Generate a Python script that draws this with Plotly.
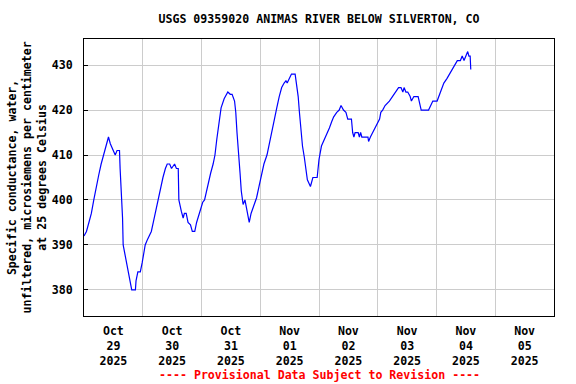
import plotly.graph_objects as go

# ---- data ----
times = [
    # Oct 29
    "2025-10-29 00:00", "2025-10-29 01:00", "2025-10-29 02:00", "2025-10-29 03:00", "2025-10-29 04:00",
    "2025-10-29 05:00", "2025-10-29 06:00", "2025-10-29 07:00", "2025-10-29 08:00", "2025-10-29 09:00",
    "2025-10-29 10:00", "2025-10-29 10:45", "2025-10-29 12:00", "2025-10-29 12:45", "2025-10-29 13:30",
    "2025-10-29 14:30", "2025-10-29 14:45", "2025-10-29 15:30", "2025-10-29 15:45", "2025-10-29 16:00",
    "2025-10-29 16:45", "2025-10-29 17:30", "2025-10-29 18:15", "2025-10-29 19:00", "2025-10-29 19:30",
    "2025-10-29 21:00", "2025-10-29 21:15", "2025-10-29 22:00", "2025-10-29 23:00", "2025-10-29 23:45",
    # Oct 30
    "2025-10-30 00:30", "2025-10-30 01:00", "2025-10-30 01:45", "2025-10-30 02:30", "2025-10-30 03:30",
    "2025-10-30 04:30", "2025-10-30 05:30", "2025-10-30 06:30", "2025-10-30 07:15", "2025-10-30 08:15",
    "2025-10-30 09:15", "2025-10-30 10:00", "2025-10-30 11:00", "2025-10-30 11:45", "2025-10-30 13:00",
    "2025-10-30 13:45", "2025-10-30 14:30", "2025-10-30 14:45", "2025-10-30 15:45", "2025-10-30 16:30",
    "2025-10-30 17:00", "2025-10-30 17:45", "2025-10-30 18:30", "2025-10-30 19:30", "2025-10-30 20:15",
    "2025-10-30 21:15", "2025-10-30 22:00", "2025-10-30 22:30", "2025-10-30 23:45",
    # Oct 31
    "2025-10-31 00:30", "2025-10-31 01:15", "2025-10-31 02:00", "2025-10-31 03:00", "2025-10-31 03:45",
    "2025-10-31 04:45", "2025-10-31 05:30", "2025-10-31 06:15", "2025-10-31 07:15", "2025-10-31 08:00",
    "2025-10-31 09:15", "2025-10-31 10:15", "2025-10-31 10:45", "2025-10-31 11:45", "2025-10-31 12:30",
    "2025-10-31 13:30", "2025-10-31 14:00", "2025-10-31 14:30", "2025-10-31 15:15", "2025-10-31 15:45",
    "2025-10-31 16:15", "2025-10-31 17:00", "2025-10-31 17:45", "2025-10-31 18:15", "2025-10-31 19:00",
    "2025-10-31 19:30", "2025-10-31 20:15", "2025-10-31 21:30", "2025-10-31 22:30", "2025-10-31 23:30",
    # Nov 01
    "2025-11-01 00:30", "2025-11-01 01:30", "2025-11-01 02:45", "2025-11-01 03:30", "2025-11-01 04:30",
    "2025-11-01 05:30", "2025-11-01 06:45", "2025-11-01 07:45", "2025-11-01 08:45", "2025-11-01 09:45",
    "2025-11-01 10:30", "2025-11-01 11:00", "2025-11-01 12:00", "2025-11-01 12:45", "2025-11-01 14:15",
    "2025-11-01 15:00", "2025-11-01 15:30", "2025-11-01 16:00", "2025-11-01 16:45", "2025-11-01 17:15",
    "2025-11-01 18:00", "2025-11-01 18:30", "2025-11-01 19:15", "2025-11-01 20:30", "2025-11-01 21:30",
    "2025-11-01 23:15",
    # Nov 02
    "2025-11-02 00:00", "2025-11-02 01:00", "2025-11-02 02:15", "2025-11-02 03:15", "2025-11-02 04:15",
    "2025-11-02 05:15", "2025-11-02 06:00", "2025-11-02 07:15", "2025-11-02 08:15", "2025-11-02 09:00",
    "2025-11-02 10:00", "2025-11-02 11:00", "2025-11-02 11:45", "2025-11-02 13:15", "2025-11-02 13:45",
    "2025-11-02 14:15", "2025-11-02 14:45", "2025-11-02 16:00", "2025-11-02 16:30", "2025-11-02 17:00",
    "2025-11-02 17:30", "2025-11-02 20:00", "2025-11-02 20:15", "2025-11-02 21:00", "2025-11-02 22:00",
    "2025-11-02 23:00", "2025-11-02 23:45",
    # Nov 03
    "2025-11-03 00:45", "2025-11-03 01:15", "2025-11-03 02:00", "2025-11-03 03:00", "2025-11-03 04:45",
    "2025-11-03 06:00", "2025-11-03 07:15", "2025-11-03 08:30", "2025-11-03 09:30", "2025-11-03 10:15",
    "2025-11-03 10:45", "2025-11-03 11:30", "2025-11-03 12:15", "2025-11-03 13:15", "2025-11-03 13:45",
    "2025-11-03 14:45", "2025-11-03 16:30", "2025-11-03 17:00", "2025-11-03 17:45", "2025-11-03 20:45",
    "2025-11-03 21:30", "2025-11-03 22:30",
    # Nov 04
    "2025-11-04 00:15", "2025-11-04 01:00", "2025-11-04 02:00", "2025-11-04 03:00", "2025-11-04 04:15",
    "2025-11-04 05:15", "2025-11-04 06:15", "2025-11-04 07:30", "2025-11-04 08:30", "2025-11-04 09:45",
    "2025-11-04 10:30", "2025-11-04 11:15", "2025-11-04 12:00", "2025-11-04 12:45", "2025-11-04 13:15",
    "2025-11-04 13:45", "2025-11-04 14:00",
]

conductance = [
    # Oct 29
    392, 393, 395, 397, 400, 403, 405.5, 408, 410, 412,
    414, 412.5, 411, 410, 411, 411, 407, 400, 396, 390,
    388, 386, 384, 382, 380, 380, 382, 384, 384, 386,
    # Oct 30
    388.5, 390, 391, 392, 393, 395.5, 398, 400.5, 403, 405,
    407, 408, 408, 407, 408, 407, 407, 400, 397.5, 396,
    397, 397, 395, 394.5, 393, 393, 395, 396, 398,
    # Oct 31
    399.5, 400, 402, 404, 406, 408, 410, 413.5, 418, 420.5,
    422.5, 423.5, 424, 423.5, 423.5, 422, 419.5, 415, 410.5, 406,
    402, 399, 400, 398.5, 396, 395, 397, 399, 400.5, 403,
    # Nov 01
    405.5, 408, 410, 412, 415, 418, 420.5, 423, 425, 426,
    426.5, 426, 427, 428, 428, 425.5, 423, 419.5, 415, 412,
    409.5, 407, 404.5, 403, 405, 405,
    # Nov 02
    409, 412, 413.5, 415, 416, 417.5, 418.5, 419.5, 420, 421,
    420, 419.5, 418, 418, 415, 414, 415, 415, 414, 415,
    414, 414, 413, 414, 415, 416, 417,
    # Nov 03
    418, 419.5, 420, 421, 422, 423, 424, 425, 425, 424,
    425, 424, 424, 423, 422, 423, 423, 421.5, 420, 420,
    421, 422,
    # Nov 04
    422, 423, 424.5, 426, 427, 428, 429, 430, 431, 431,
    432, 431, 432, 433, 432, 432, 429,
]

day_label_positions = ["2025-10-29 12:00", "2025-10-30 12:00", "2025-10-31 12:00", "2025-11-01 12:00",
                       "2025-11-02 12:00", "2025-11-03 12:00", "2025-11-04 12:00", "2025-11-05 12:00"]
day_labels = ["Oct<br>29<br>2025", "Oct<br>30<br>2025", "Oct<br>31<br>2025", "Nov<br>01<br>2025",
              "Nov<br>02<br>2025", "Nov<br>03<br>2025", "Nov<br>04<br>2025", "Nov<br>05<br>2025"]
midnights = ["2025-10-30", "2025-10-31", "2025-11-01", "2025-11-02", "2025-11-03", "2025-11-04", "2025-11-05"]
y_ticks = [380, 390, 400, 410, 420, 430]

x_range = ["2025-10-29 00:00", "2025-11-06 00:00"]
y_range = [374.2, 435.8]

MONO = "DejaVu Sans Mono"
FS = 11.6

fig = go.Figure()
fig.add_trace(go.Scatter(x=times, y=conductance, mode="lines",
                         line=dict(color="#0000FF", width=1.2), hoverinfo="skip"))

fig.update_layout(
    width=576, height=384, autosize=False,
    margin=dict(l=84, r=22, t=39, b=68, pad=0),
    paper_bgcolor="white", plot_bgcolor="white",
    showlegend=False,
    font=dict(family=MONO, size=FS, color="black", weight="bold"),
    title=dict(text="USGS 09359020 ANIMAS RIVER BELOW SILVERTON, CO",
               xref="paper", x=0.5, xanchor="center",
               yref="container", y=1 - 19 / 384, yanchor="middle",
               font=dict(family=MONO, size=FS, color="black", weight="bold")),
)

fig.update_xaxes(
    type="date", range=x_range,
    tickmode="array", tickvals=day_label_positions, ticktext=day_labels,
    ticks="", showgrid=False, zeroline=False,
    tickfont=dict(family=MONO, size=FS, color="black", weight="bold"),
    ticklabelstandoff=4,
    showline=True, linecolor="black", linewidth=1, mirror=True,
    minor=dict(tickmode="array", tickvals=midnights, showgrid=True,
               gridcolor="#CCCCCC", gridwidth=1, ticks=""),
)

fig.update_yaxes(
    range=y_range, tickmode="array", tickvals=y_ticks,
    showgrid=True, gridcolor="#CCCCCC", gridwidth=1, zeroline=False,
    ticks="inside", ticklen=4, tickcolor="black", tickwidth=1,
    tickfont=dict(family=MONO, size=FS, color="black", weight="bold"),
    ticklabelstandoff=8,
    showline=True, linecolor="black", linewidth=1, mirror=True,
)

fig.add_annotation(
    text="Specific conductance, water,<br>unfiltered, microsiemens per centimeter<br>at 25 degrees Celsius",
    xref="paper", yref="paper", x=0, y=0.5, xanchor="center", yanchor="middle",
    xshift=-58, textangle=-90, showarrow=False, align="center",
    font=dict(family=MONO, size=FS, color="black", weight="bold"),
)

fig.add_annotation(
    text="---- Provisional Data Subject to Revision ----",
    xref="paper", yref="paper", x=0.5, y=-(375 - 316) / 277,
    xanchor="center", yanchor="middle", showarrow=False,
    font=dict(family=MONO, size=FS, color="#FF0000", weight="bold"),
)

fig.write_html(
    "out.html",
    config={"displayModeBar": False, "staticPlot": True},
    post_script="document.body.style.margin='0';document.body.style.padding='0';document.body.style.overflow='hidden';",
)
